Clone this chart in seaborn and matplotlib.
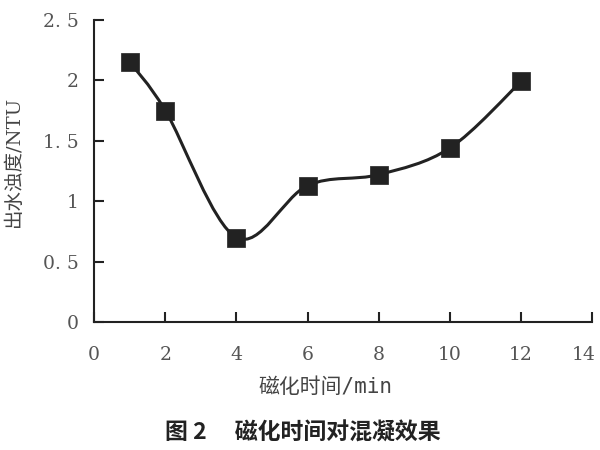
import numpy as np
import pandas as pd
import matplotlib
matplotlib.use("Agg")
import matplotlib.pyplot as plt
from matplotlib.path import Path
from matplotlib.patches import PathPatch
from matplotlib.transforms import ScaledTranslation
import seaborn as sns

# ---- data ----
time_min = [1, 2, 4, 6, 8, 10, 12]
turbidity = [2.15, 1.75, 0.70, 1.13, 1.22, 1.44, 1.99]
x_ticks = [0, 2, 4, 6, 8, 10, 12, 14]
y_ticks = [0, 0.5, 1, 1.5, 2, 2.5]
y_ticklabels = ["0", "0. 5", "1", "1. 5", "2", "2. 5"]
x_label = "磁化时间/min"
y_label = "出水浊度/NTU"
caption = "图 2\u3000 磁化时间对混凝效果"

sns.set_theme(style="ticks")
plt.rcParams['font.family'] = ['DejaVu Serif', 'Noto Sans CJK SC']

df = pd.DataFrame({"t": time_min, "y": turbidity})

fig = plt.figure(figsize=(6, 4.5), dpi=100)
ax = fig.add_axes([0.157, 0.284, 0.83, 0.672])

# smooth (Catmull-Rom -> cubic Bezier) curve through the data points
xs = np.array(time_min, float)
ys = np.array(turbidity, float)
P = np.column_stack([xs, ys])
verts = [tuple(P[0])]
codes = [Path.MOVETO]
n = len(P)
for i in range(n - 1):
    p0 = P[i - 1] if i > 0 else P[i]
    p1 = P[i]
    p2 = P[i + 1]
    p3 = P[i + 2] if i + 2 < n else P[i + 1]
    c1 = p1 + (p2 - p0) / 6.0
    c2 = p2 - (p3 - p1) / 6.0
    verts += [tuple(c1), tuple(c2), tuple(p2)]
    codes += [Path.CURVE4] * 3
ax.add_patch(PathPatch(Path(verts, codes), facecolor="none",
                       edgecolor="#222222", lw=2.2, zorder=2))

sns.scatterplot(data=df, x="t", y="y", marker="s", s=150, color="#222222",
                edgecolor="#222222", linewidth=0.5, ax=ax, zorder=3)

ax.set_xlim(0, 14)
ax.set_ylim(0, 2.5)
ax.set_xticks(x_ticks)
ax.set_xticklabels([str(v) for v in x_ticks])
ax.set_yticks(y_ticks)
ax.set_yticklabels(y_ticklabels)

for s in ["top", "right"]:
    ax.spines[s].set_visible(False)
for s in ["left", "bottom"]:
    ax.spines[s].set_linewidth(1.5)
    ax.spines[s].set_color("#222222")

ax.tick_params(axis="both", direction="in", length=7, width=1.5,
               colors="#222222", labelcolor="#555555", labelsize=13.5)
ax.tick_params(axis="y", pad=11)
ax.tick_params(axis="x", pad=17)

# nudge the last x tick label inward so it stays inside the figure
last = ax.get_xticklabels()[-1]
last.set_transform(last.get_transform() + ScaledTranslation(-9 / 100, 0, fig.dpi_scale_trans))

ax.set_xlabel(x_label, fontsize=15, color="#444444",
              family=['DejaVu Sans Mono', 'Noto Sans CJK SC'])
ax.xaxis.set_label_coords(0.465, -0.18)
ax.set_ylabel(y_label, fontsize=14, color="#444444",
              family=['DejaVu Serif', 'Noto Sans CJK SC'])
ax.yaxis.set_label_coords(-0.143, 0.53)

fig.text(0.505, 0.038, caption, ha="center", va="center", fontsize=16.5,
         fontweight="bold", color="#222222", family=['Noto Sans CJK SC'])

fig.savefig("out.png", dpi=100, facecolor="white")
